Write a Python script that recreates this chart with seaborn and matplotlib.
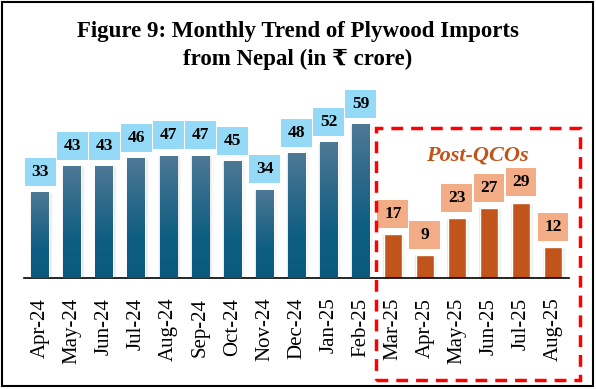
import numpy as np
import pandas as pd
import matplotlib
matplotlib.use("Agg")
import matplotlib.pyplot as plt
import seaborn as sns
from matplotlib.patches import Rectangle
from matplotlib.colors import LinearSegmentedColormap

months = ["Apr-24", "May-24", "Jun-24", "Jul-24", "Aug-24", "Sep-24", "Oct-24",
          "Nov-24", "Dec-24", "Jan-25", "Feb-25", "Mar-25", "Apr-25", "May-25",
          "Jun-25", "Jul-25", "Aug-25"]
values = [33, 43, 43, 46, 47, 47, 45, 34, 48, 52, 59, 17, 9, 23, 27, 29, 12]
period = ["Pre"] * 11 + ["Post"] * 6

title1 = "Figure 9: Monthly Trend of Plywood Imports"
title2 = "from Nepal (in \u20b9 crore)"
annot = "Post-QCOs"

W, H = 596, 389
sns.set_theme(style="white")
plt.rcParams["font.family"] = ["Liberation Serif", "DejaVu Serif", "DejaVu Sans"]
plt.rcParams["text.color"] = "black"
plt.rcParams["xtick.color"] = "black"
plt.rcParams["xtick.labelcolor"] = "black"

fig = plt.figure(figsize=(W / 100, H / 100), dpi=100)
fig.patch.set_facecolor("white")

def px(x0, y0, x1, y1):
    return [x0 / W, 1 - y1 / H, (x1 - x0) / W, (y1 - y0) / H]

ax = fig.add_axes(px(24.3, 90, 569, 278.3))
df = pd.DataFrame({"month": months, "value": values, "period": period})
sns.barplot(data=df, x="month", y="value", hue="period",
            palette={"Pre": "#0C5A7D", "Post": "#C0541A"},
            dodge=False, width=0.56, legend=False, ax=ax, saturation=1)
ax.set_ylim(0, 72.1)
ax.set_xlim(-0.5, len(months) - 0.5)

# gradient on blue bars + subtle shadow
cmap = LinearSegmentedColormap.from_list("g", ["#0B5A7E", "#0E5E83", "#2E6A8B", "#4F7996"])
grad = np.linspace(0, 1, 256).reshape(-1, 1)
for p, per in zip(ax.patches, period):
    x0, w, h = p.get_x(), p.get_width(), p.get_height()
    for k, a in enumerate([0.10, 0.07, 0.04]):
        off = 0.035 * (k + 1)
        ax.add_patch(Rectangle((x0 - off * 0.4, 0), w + off * 1.6, h - off * 6 if h > 2 else h,
                               facecolor="#808080", alpha=a, edgecolor="none", zorder=1))
    p.set_zorder(2)
    if per == "Pre":
        im = ax.imshow(grad, aspect="auto", cmap=cmap, origin="lower",
                       extent=[x0, x0 + w, 0, h], zorder=3, vmin=0, vmax=1)
        im.set_clip_path(p)
ax.set_xlim(-0.5, len(months) - 0.5)
ax.set_ylim(0, 72.1)

# value labels with boxes
for i, (v, per) in enumerate(zip(values, period)):
    fc = "#94D9F5" if per == "Pre" else "#F2AD86"
    y0 = v + 2.4
    ax.add_patch(Rectangle((i - 0.48, y0), 0.96, 10.7, facecolor=fc,
                           edgecolor="none", zorder=4, clip_on=False))
    ax.text(i, y0 + 5.35, str(v), ha="center", va="center", fontsize=12.5,
            fontweight="bold", color="black", zorder=5)

for s in ["left", "right", "top"]:
    ax.spines[s].set_visible(False)
ax.spines["bottom"].set_color("black")
ax.spines["bottom"].set_linewidth(1.2)
ax.set_yticks([])
ax.set_xlabel("")
ax.set_ylabel("")
ax.set_xticks(range(len(months)))
ax.set_xticklabels(months, rotation=90, fontsize=15, color="black")
ax.tick_params(axis="x", which="major", length=0, pad=14)
ax.set_xticks(np.arange(-0.5, len(months), 1), minor=True)
ax.tick_params(axis="x", which="minor", length=6, width=1.2, color="black", direction="out")
ax.tick_params(axis="x", which="major", bottom=False)

fig.text(0.5, 1 - 32 / H, title1, ha="center", va="center", fontsize=16.5,
         fontweight="bold", color="black")
fig.text(0.5, 1 - 59 / H, title2, ha="center", va="center", fontsize=16.5,
         fontweight="bold", color="black")

fig.text(477 / W, 1 - 155 / H, annot, ha="center", va="center", fontsize=16,
         fontweight="bold", fontstyle="italic", color="#C0541A")

# dashed red box
fig.add_artist(Rectangle((376 / W, 1 - 380 / H), (580 - 376) / W, (380 - 128) / H,
                         transform=fig.transFigure, fill=False, edgecolor="#FF0000",
                         linewidth=2.5, linestyle=(0, (3.4, 2.3)), zorder=10))
# figure border
fig.add_artist(Rectangle((2 / W, 1 - 386 / H), 591 / W, 384 / H, transform=fig.transFigure,
                         fill=False, edgecolor="black", linewidth=1.5))

fig.savefig("out.png", dpi=100)
